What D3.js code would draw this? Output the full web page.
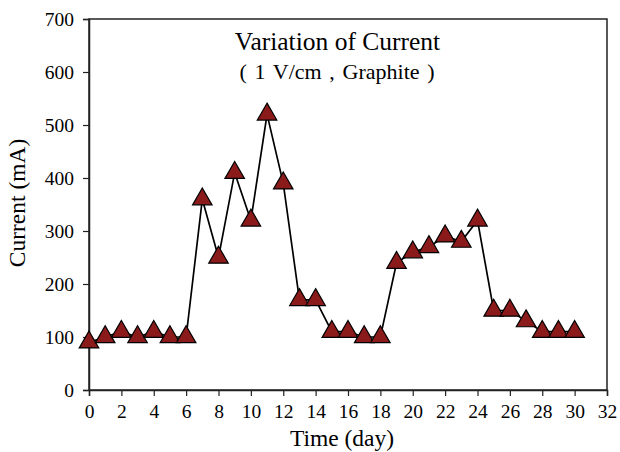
<!DOCTYPE html>
<html><head><meta charset="utf-8">
<script src="https://cdn.jsdelivr.net/npm/d3@7"></script>
<style>body{margin:0;background:#fff}svg{display:block}svg text{font-family:'Liberation Serif','Times New Roman',Times,serif !important}</style>
</head><body><svg id="c" width="620" height="452" font-family="Liberation Serif, serif"></svg>
<script>
const days = [0,1,2,3,4,5,6,7,8,9,10,11,12,13,14,15,16,17,18,19,20,21,22,23,24,25,26,27,28,29,30];
const current = [90,100,110,100,110,100,100,360,250,410,320,520,390,170,170,110,110,100,100,240,260,270,290,280,320,150,150,130,110,110,110];
const xTicks = [0,2,4,6,8,10,12,14,16,18,20,22,24,26,28,30,32];
const yTicks = [0,100,200,300,400,500,600,700];

const svg = d3.select("#c");
const L=89, R=607, T=19, B=390;
const x = d3.scaleLinear().domain([0,32]).range([L,R]);
const y = d3.scaleLinear().domain([0,700]).range([B,T]);

svg.append("rect").attr("x",L).attr("y",T).attr("width",R-L).attr("height",B-T)
  .attr("fill","none").attr("stroke","#222").attr("stroke-width",1.5);

const xa = svg.append("g").attr("transform",`translate(0,${B})`)
  .call(d3.axisBottom(x).tickValues(xTicks).tickSize(6).tickPadding(8));
const ya = svg.append("g").attr("transform",`translate(${L},0)`)
  .call(d3.axisLeft(y).tickValues(yTicks).tickSize(6).tickPadding(9));
[xa,ya].forEach(a=>{a.attr("font-family","Liberation Serif, serif").attr("font-size",19.5);
  a.select(".domain").attr("stroke","#222").attr("stroke-width",1.5);
  a.selectAll(".tick line").attr("stroke","#222").attr("stroke-width",1.2);
  a.selectAll("text").attr("fill","#000");});

svg.append("path").datum(days.map((d,i)=>[d,current[i]]))
  .attr("fill","none").attr("stroke","#000").attr("stroke-width",1.7)
  .attr("d",d3.line().x(d=>x(d[0])).y(d=>y(d[1])));

const tri = d3.symbol().type(d3.symbolTriangle).size(165);
svg.append("g").selectAll("path").data(days.map((d,i)=>[d,current[i]])).join("path")
  .attr("transform",d=>`translate(${x(d[0])},${y(d[1])})`)
  .attr("d",tri).attr("fill","#8b1a1a").attr("stroke","#000").attr("stroke-width",1.2);

function label(sel,size){ return sel.attr("fill","#000").attr("text-anchor","middle").attr("font-size",size); }
label(svg.append("text"),25.5).attr("x",337.5).attr("y",50).text("Variation of Current");
label(svg.append("text"),22).attr("x",337).attr("y",79).attr("word-spacing",2.2).text("( 1 V/cm , Graphite )");
label(svg.append("text"),23.5).attr("x",342).attr("y",446).text("Time (day)");
label(svg.append("text"),23.5).attr("transform","translate(25,203) rotate(-90)").text("Current (mA)");
</script></body></html>
